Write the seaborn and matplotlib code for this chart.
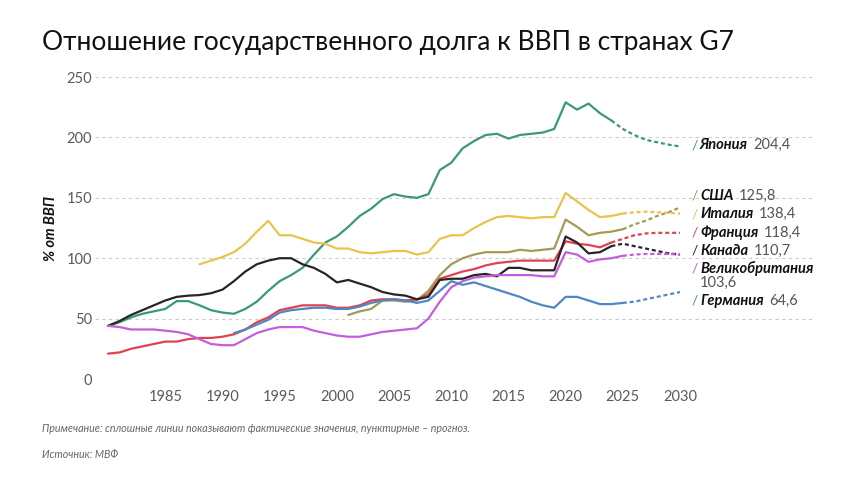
import matplotlib
matplotlib.use("Agg")
import matplotlib.pyplot as plt
import seaborn as sns
import numpy as np

# фактические значения (% от ВВП) и прогноз МВФ
JAPAN_START = 1980
JAPAN = [44, 47, 51, 54, 56, 58, 64.5, 64.5, 61, 57,
         55, 54, 58, 64, 73, 81, 86, 92, 103, 113,
         118, 126, 135, 141, 149, 153, 151, 150, 153, 173,
         179, 191, 197, 202, 203, 199, 202, 203, 204, 207,
         229, 223, 228, 220, 214]
JAPAN_FC = [207, 202, 198, 196, 194, 192.5]

US_START = 2001
US = [53, 56, 58, 65, 65, 64, 65, 73, 86,
      95, 100, 103, 105, 105, 105, 107, 106, 107, 108,
      132, 126, 119, 121, 122, 124]
US_FC = [128, 131, 135, 138, 142]

ITALY_START = 1988
ITALY = [95, 98,
         101, 105, 112, 122, 131, 119, 119, 116, 113, 112,
         108, 108, 105, 104, 105, 106, 106, 103, 105, 116,
         119, 119, 125, 130, 134, 135, 134, 133, 134, 134,
         154, 147, 140, 134, 135, 137]
ITALY_FC = [138, 138.5, 138, 137.5, 137]

FRANCE_START = 1980
FRANCE = [21, 22, 25, 27, 29, 31, 31, 33, 34, 34,
          35, 37, 41, 47, 51, 57, 59, 61, 61, 61,
          59, 59, 61, 65, 66, 66, 65, 66, 70, 83,
          86, 89, 91, 94, 96, 97, 98, 98, 98, 98,
          114, 112, 111, 109, 113]
FRANCE_FC = [116, 119, 120.5, 121, 121, 121]

CANADA_START = 1980
CANADA = [44, 48, 53, 57, 61, 65, 68, 69, 69.5, 71,
          74, 81, 89, 95, 98, 100, 100, 95, 92, 87,
          80, 82, 79, 76, 72, 70, 69, 66, 68, 82,
          83, 83, 86, 87, 85, 92, 92, 90, 90, 90,
          118, 113, 104, 105, 110]
CANADA_FC = [112, 110, 108, 106, 104, 103]

UK_START = 1980
UK = [44, 43, 41, 41, 41, 40, 39, 37, 33, 29,
      28, 28, 33, 38, 41, 43, 43, 43, 40, 38,
      36, 35, 35, 37, 39, 40, 41, 42, 50, 64,
      76, 81, 84, 85, 86, 86, 86, 86, 85, 85,
      105, 103, 97, 99, 100, 102]
UK_FC = [103, 103.5, 103.5, 103.5, 103]

GERMANY_START = 1991
GERMANY = [38, 41, 45, 49, 55, 57, 58, 59, 59,
           58, 58, 60, 63, 65, 66, 65, 63, 65, 73,
           81, 78, 80, 77, 74, 71, 68, 64, 61, 59,
           68, 68, 65, 62, 62, 63]
GERMANY_FC = [64, 66, 68, 70, 72]

NAMES = ["Япония", "США", "Италия", "Франция", "Канада", "Великобритания", "Германия"]
LABEL_VALUES = ["204,4", "125,8", "138,4", "118,4", "110,7", "103,6", "64,6"]
COLORS = ["#3a9a70", "#a39b53", "#ebc24d", "#e0424f", "#262626", "#c45edb", "#4f87c4"]
LABEL_Y = [193.7, 151.5, 136.3, 121.1, 106.2, 91.3, 64.6]

series = [
    (JAPAN_START, JAPAN, JAPAN_FC),
    (US_START, US, US_FC),
    (ITALY_START, ITALY, ITALY_FC),
    (FRANCE_START, FRANCE, FRANCE_FC),
    (CANADA_START, CANADA, CANADA_FC),
    (UK_START, UK, UK_FC),
    (GERMANY_START, GERMANY, GERMANY_FC),
]

sns.set_theme(style="white")
plt.rcParams["font.family"] = ["Lato", "DejaVu Sans"]

fig = plt.figure(figsize=(8.6, 4.84), dpi=100)
ax = fig.add_axes([0.1105, 0.2169, 0.8372, 0.624])

for (start, vals, fc), color in zip(series, COLORS):
    years = np.arange(start, start + len(vals))
    sns.lineplot(x=years, y=vals, ax=ax, color=color, linewidth=1.6)
    fc_years = np.arange(years[-1], years[-1] + len(fc) + 1)
    sns.lineplot(x=fc_years, y=[vals[-1]] + fc, ax=ax, color=color,
                 linewidth=1.6, linestyle=(0, (1.8, 1.3)))

ax.set_xlim(1978.86, 2041.8)
ax.set_ylim(0, 250)
ax.set_xticks(range(1985, 2031, 5))
ax.set_yticks(range(0, 251, 50))
ax.tick_params(axis="both", length=0, labelsize=10.5, labelcolor="#5a5a5a")
ax.tick_params(axis="y", pad=2)
ax.tick_params(axis="x", pad=8)
ax.grid(axis="y", linestyle=(0, (3, 3)), color="#cccccc", linewidth=0.8)
ax.grid(axis="x", visible=False)
for s in ax.spines.values():
    s.set_visible(False)

ax.set_xlabel("")
ax.set_ylabel("% от ВВП", fontsize=10.5, fontweight="bold", fontstyle="italic", color="#111111")
ax.yaxis.set_label_coords(-0.052, 0.5)

# подписи справа
for name, val, color, y in zip(NAMES, LABEL_VALUES, COLORS, LABEL_Y):
    ax.text(2031.0, y, "/", color=color, fontsize=10, va="center", ha="left")
    t = ax.text(2031.75, y, name, fontsize=10.5, fontweight="bold", fontstyle="italic",
                color="#111111", va="center", ha="left")
    if name == "Великобритания":
        ax.text(2031.75, 79.7, val, fontsize=10.5, color="#555555", va="center", ha="left")
    else:
        ax.annotate(val, xy=(1, 0.5), xycoords=t, xytext=(4, 0), textcoords="offset points",
                    fontsize=10.5, color="#555555", va="center", ha="left")

fig.text(0.0488, 0.913, "Отношение государственного долга к ВВП в странах G7",
         fontsize=19, color="#111111", va="center", ha="left")
fig.text(0.0488, 1 - 428 / 484,
         "Примечание: сплошные линии показывают фактические значения, пунктирные – прогноз.",
         fontsize=7.7, fontstyle="italic", color="#666666", va="center", ha="left")
fig.text(0.0488, 1 - 455 / 484, "Источник: МВФ",
         fontsize=7.7, fontstyle="italic", color="#666666", va="center", ha="left")

fig.savefig("out.png", dpi=100)
